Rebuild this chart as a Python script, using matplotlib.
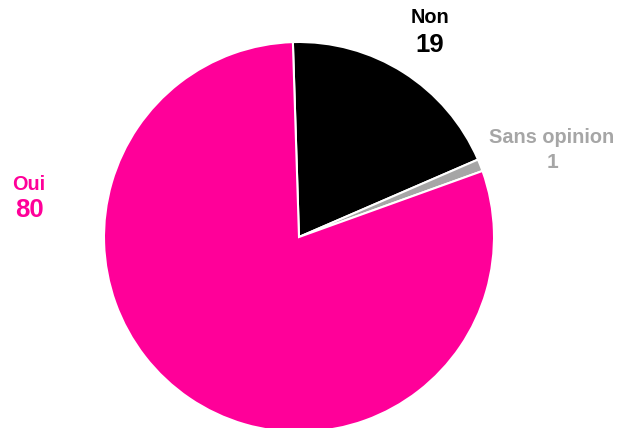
import matplotlib.pyplot as plt

labels = ['Non', 'Sans opinion', 'Oui']
values = [19, 1, 80]
colors = ['#000000', '#A6A6A6', '#FF0099']

W, H = 626, 428
fig = plt.figure(figsize=(W / 100, H / 100), dpi=100)
ax = fig.add_axes([0, 0, 1, 1])

# pie in pixel coordinates, clipped at the bottom edge
ax.pie(values, colors=colors, startangle=91.8, counterclock=False,
       center=(299, H - 237), radius=195, frame=True,
       wedgeprops=dict(edgecolor='white', linewidth=1.5))
ax.set_xlim(0, W)
ax.set_ylim(0, H)
ax.set_aspect('equal')
ax.axis('off')

font = 'Liberation Sans'
# label name + value for each slice
label_pos = [(430, 17, 45, 18.5), (552, 137, 162, 15), (29, 184, 210, 18.5)]
for lab, val, col, (x, y1, y2, size) in zip(labels, values, colors, label_pos):
    ax.text(x, H - y1, lab, color=col, fontsize=14.3, fontweight='bold',
            family=font, ha='center', va='center')
    ax.text(x, H - y2, str(val), color=col, fontsize=size, fontweight='bold',
            family=font, ha='center', va='center')

fig.savefig('out.png', dpi=100)
